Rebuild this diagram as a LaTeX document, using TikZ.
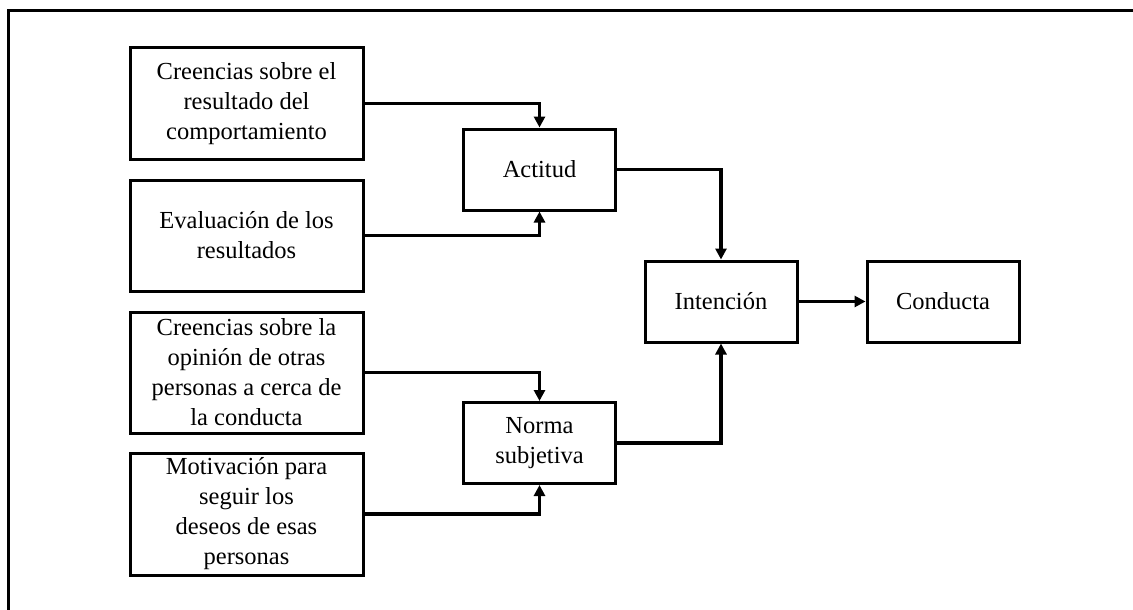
\documentclass[tikz,border=0pt]{standalone}
\usepackage{fontspec}
\setmainfont{Liberation Serif}
\usetikzlibrary{arrows.meta, positioning}

\begin{document}
\begin{tikzpicture}[x=1pt, y=-1pt,
          belief/.style={rectangle, draw=black, line width=3pt, minimum width=233pt, align=center, inner sep=0pt, font=\fontsize{24.5}{30}\selectfont},
          construct/.style={rectangle, draw=black, line width=3pt, minimum width=152pt, minimum height=81pt, align=center, inner sep=0pt, font=\fontsize{24.5}{30}\selectfont},
          link/.style={line width=3.3pt, -{Triangle[length=11pt, width=11pt]}}
        ]
          \clip (0,0) rectangle (1133,610);
          \draw[line width=3pt] (8.5,650) -- (8.5,11) -- (1170,11); % outer frame, cut by the page
          \node (outcome) [belief, minimum height=111pt] at (246.5,103.5) {Creencias sobre el\\resultado del\\comportamiento};
          \node (evaluation) [belief, minimum height=111pt] at (246.5,235.5) {Evaluación de los\\resultados};
          \node (opinion) [belief, minimum height=121pt] at (246.5,372.5) {Creencias sobre la\\opinión de otras\\personas a cerca de\\la conducta};
          \node (motivation) [belief, minimum height=122pt] at (246.5,514) {Motivación para\\seguir los\\deseos de esas\\personas};
          \node (attitude) [construct] at (539.5,169.5) {Actitud};
          \node (norm) [construct] at (539.5,443) {Norma\\subjetiva};
          \node (intention) [construct] at (721,301.5) {Intención};
          \node (behaviour) [construct] at (943,301.5) {Conducta};
          \draw[link] (outcome.east) -| (attitude.north);
          \draw[link] (evaluation.east) -| (attitude.south);
          \draw[link] (opinion.east) -| (norm.north);
          \draw[link] (motivation.east) -| (norm.south);
          \draw[link] (attitude.east) -| (intention.north);
          \draw[link] (norm.east) -| (intention.south);
          \draw[link] (intention) -- (behaviour);
        \end{tikzpicture}
\end{document}
